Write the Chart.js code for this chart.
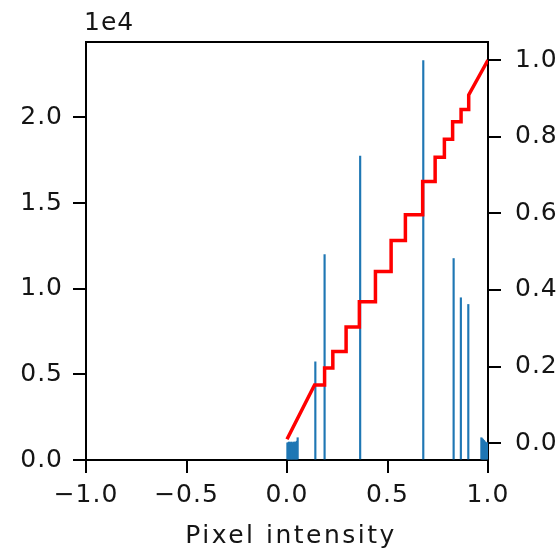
<!DOCTYPE html>
<html>
<head>
<meta charset="utf-8">
<script src="https://cdn.jsdelivr.net/npm/chart.js@4/dist/chart.umd.min.js"></script>
<style>
  html, body { margin: 0; padding: 0; background: #fff; }
  #wrap { width: 559px; height: 552px; }
</style>
</head>
<body>
<div id="wrap"><canvas id="histChart" width="559" height="552"></canvas></div>
<script>
// Histogram bins (bin centre, pixel count)
const binCenters = [
  0.002, 0.006, 0.010, 0.014, 0.018, 0.021, 0.025, 0.029, 0.033, 0.037, 0.041, 0.045, 0.049, 0.053,
  0.141, 0.187, 0.364, 0.678, 0.829, 0.865, 0.902,
  0.967, 0.971, 0.975, 0.979, 0.982, 0.986, 0.990, 0.994, 0.998
];
const binCounts = [
  1000, 1000, 1050, 1000, 1000, 1050, 1000, 1000, 1050, 1000, 1050, 1000, 1100, 1300,
  5730, 11990, 17740, 23320, 11760, 9470, 9080,
  1300, 1250, 1200, 1150, 1100, 1050, 1000, 1000, 1000
];

// Cumulative distribution (corner points of the red curve)
const cdfX = [0.0, 0.137, 0.187, 0.187, 0.228, 0.228, 0.294, 0.294, 0.360, 0.360, 0.440, 0.440,
  0.518, 0.518, 0.589, 0.589, 0.675, 0.675, 0.737, 0.737, 0.783, 0.783, 0.824, 0.824,
  0.866, 0.866, 0.904, 0.904, 1.0];
const cdfY = [0.010, 0.152, 0.152, 0.196, 0.196, 0.239, 0.239, 0.303, 0.303, 0.369, 0.369, 0.448,
  0.448, 0.529, 0.529, 0.596, 0.596, 0.683, 0.683, 0.746, 0.746, 0.793, 0.793, 0.839,
  0.839, 0.871, 0.871, 0.909, 1.0];

// Tick labels
const xTicks = [-1.0, -0.5, 0.0, 0.5, 1.0];
const yTicks = [0, 5000, 10000, 15000, 20000];
const y2Ticks = [0.0, 0.2, 0.4, 0.6, 0.8, 1.0];

const FAMILY = "'DejaVu Sans', sans-serif";
const FONT = { family: FAMILY, size: 25 };
const TEXT = '#151515';

function fmt(v) {
  const s = Math.abs(v).toFixed(1);
  return v < 0 ? '\u2212' + s : s;
}

function fixTicks(list) {
  return function(scale) {
    scale.ticks = list.map(v => ({ value: v }));
  };
}

const axisGrid = { display: true, offset: false, drawOnChartArea: false, drawTicks: true, tickLength: 13, color: '#000', lineWidth: 2 };
const axisBorder = { display: true, color: '#000', width: 2 };

// wider letter spacing, like the reference text
const spacingPlugin = {
  id: 'spacing',
  beforeUpdate(chart) { chart.ctx.letterSpacing = '1px'; },
  beforeDraw(chart) { chart.ctx.letterSpacing = '1px'; }
};

// Top edge of the box, offset label and axis title
const framePlugin = {
  id: 'frame',
  afterDraw(chart) {
    const { ctx, chartArea } = chart;
    ctx.save();
    ctx.strokeStyle = '#000';
    ctx.lineWidth = 2;
    ctx.beginPath();
    ctx.moveTo(chartArea.left - 1, chartArea.top);
    ctx.lineTo(chartArea.right + 1, chartArea.top);
    ctx.stroke();
    ctx.fillStyle = TEXT;
    ctx.font = '25px ' + FAMILY;
    ctx.textAlign = 'left';
    ctx.textBaseline = 'alphabetic';
    ctx.letterSpacing = '1px';
    ctx.fillText('1e4', chartArea.left - 2, 30);
    ctx.letterSpacing = '2.5px';
    ctx.textAlign = 'center';
    ctx.fillText('Pixel intensity', (chartArea.left + chartArea.right) / 2 + 4, 543);
    ctx.restore();
  }
};

function createChart() {
  const ctx = document.getElementById('histChart').getContext('2d');
  new Chart(ctx, {
    type: 'bar',
    data: {
      datasets: [
        {
          type: 'line',
          data: cdfX.map((x, i) => ({ x: x, y: cdfY[i] })),
          yAxisID: 'y2',
          borderColor: '#ff0000',
          borderWidth: 3.5,
          pointRadius: 0,
          tension: 0,
          order: 1
        },
        {
          type: 'bar',
          data: binCenters.map((x, i) => ({ x: x, y: binCounts[i] })),
          yAxisID: 'y',
          backgroundColor: '#1f77b4',
          borderWidth: 0,
          barThickness: 1.5,
          grouped: false,
          order: 2
        }
      ]
    },
    options: {
      responsive: false,
      animation: false,
      layout: { padding: { top: 42, left: 0, right: 0, bottom: 0 } },
      plugins: { legend: { display: false }, tooltip: { enabled: false } },
      scales: {
        x: {
          type: 'linear',
          offset: false,
          min: -1, max: 1,
          afterBuildTicks: fixTicks(xTicks),
          afterFit(scale) { scale.height = 92; },
          grid: axisGrid,
          border: axisBorder,
          ticks: { font: FONT, color: TEXT, padding: 7, maxRotation: 0, callback: v => fmt(v) }
        },
        y: {
          position: 'left',
          min: 0, max: 24400,
          afterBuildTicks: fixTicks(yTicks),
          afterFit(scale) { scale.width = 86; },
          grid: axisGrid,
          border: axisBorder,
          ticks: { font: FONT, color: TEXT, padding: 10, callback: v => fmt(v / 10000) }
        },
        y2: {
          position: 'right',
          min: -0.044, max: 1.047,
          afterBuildTicks: fixTicks(y2Ticks),
          afterFit(scale) { scale.width = 71; },
          grid: axisGrid,
          border: axisBorder,
          ticks: { font: FONT, color: TEXT, padding: 14, callback: v => fmt(v) }
        }
      }
    },
    plugins: [spacingPlugin, framePlugin]
  });
}

document.addEventListener('DOMContentLoaded', createChart);
</script>
</body>
</html>
